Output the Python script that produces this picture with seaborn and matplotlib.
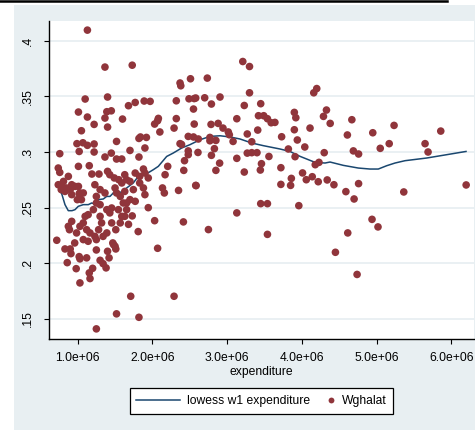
import numpy as np
import pandas as pd
import matplotlib
matplotlib.use("Agg")
import matplotlib.pyplot as plt
import seaborn as sns
from matplotlib.lines import Line2D
from matplotlib.legend_handler import HandlerBase
from matplotlib.patches import Rectangle

# ---------------- data ----------------
expenditure = [
    1.13e6, 1.365e6, 1.73e6, 2.37e6, 2.38e6, 2.51e6, 1.10e6, 1.40e6, 1.01e6, 1.13e6,
    1.39e6, 1.45e6, 1.365e6, 1.22e6, 1.40e6, 1.05e6, 1.68e6, 1.77e6, 1.89e6, 1.97e6,
    1.60e6, 2.08e6, 2.07e6, 2.03e6, 2.10e6, 1.84e6, 1.82e6, 1.92e6, 1.52e6, 0.99e6,
    1.07e6, 1.13e6, 1.22e6, 1.90e6, 2.32e6, 2.49e6, 2.56e6, 2.55e6, 2.32e6, 2.29e6,
    2.56e6, 2.48e6, 2.37e6, 2.39e6, 2.48e6, 1.70e6, 1.22e6, 1.45e6, 1.02e6, 0.76e6,
    3.21e6, 3.30e6, 2.735e6, 4.20e6, 4.16e6, 3.30e6, 2.58e6, 2.70e6, 2.905e6, 2.79e6,
    3.23e6, 3.45e6, 3.90e6, 3.92e6, 4.33e6, 4.29e6, 3.42e6, 3.49e6, 3.54e6, 3.59e6,
    3.64e6, 3.13e6, 2.785e6, 2.88e6, 2.945e6, 3.016e6, 3.03e6, 4.38e6, 4.11e6, 3.90e6,
    3.41e6, 3.27e6, 2.615e6, 2.77e6, 2.77e6, 2.85e6, 3.73e6, 3.08e6, 3.33e6, 3.94e6,
    2.83e6, 4.04e6, 3.82e6, 2.61e6, 3.27e6, 3.33e6, 3.40e6, 3.56e6, 4.30e6, 2.79e6,
    3.91e6, 3.13e6, 2.90e6, 3.46e6, 4.18e6, 4.23e6, 3.72e6, 2.85e6, 3.23e6, 3.445e6,
    4.01e6, 4.14e6, 4.06e6, 4.22e6, 4.34e6, 4.43e6, 3.86e6, 3.85e6, 3.72e6, 2.58e6,
    4.67e6, 4.61e6, 4.95e6, 5.235e6, 5.86e6, 5.65e6, 5.69e6, 5.17e6, 5.05e6, 4.69e6,
    4.76e6, 4.59e6, 4.70e6, 4.76e6, 5.365e6, 6.20e6, 3.13e6, 3.45e6, 3.54e6, 3.96e6,
    3.54e6, 4.94e6, 5.02e6, 4.615e6, 4.45e6, 4.74e6,
    2.75e6, 2.415e6, 2.03e6, 2.07e6, 1.81e6, 1.68e6, 1.73e6, 1.945e6, 1.71e6, 2.29e6,
    1.52e6, 1.82e6, 1.25e6, 0.72e6, 0.83e6, 0.90e6, 0.91e6, 0.86e6, 0.98e6, 1.03e6,
    1.02e6, 1.03e6, 1.12e6, 1.155e6, 1.165e6, 1.20e6, 1.30e6, 1.34e6, 1.38e6, 1.42e6,
    1.25e6, 1.40e6, 1.47e6, 1.50e6, 1.51e6, 0.875e6, 0.89e6, 0.92e6, 0.96e6, 0.985e6,
    1.03e6, 1.075e6, 1.12e6, 1.165e6, 1.14e6, 1.23e6, 1.25e6, 1.28e6, 1.32e6, 1.30e6,
    1.34e6, 1.39e6, 1.455e6, 1.48e6, 1.51e6, 1.57e6, 1.59e6, 1.655e6, 1.545e6, 1.61e6,
    1.43e6, 1.39e6, 1.25e6, 1.30e6, 1.21e6, 1.14e6, 1.10e6, 1.075e6, 0.995e6, 1.05e6,
    1.075e6, 1.02e6,
    1.365e6, 1.52e6, 1.59e6, 0.74e6, 0.76e6, 0.875e6, 0.81e6, 1.01e6, 1.155e6, 1.19e6,
    1.285e6, 1.40e6, 1.43e6, 1.49e6, 1.55e6, 1.63e6, 1.655e6, 1.70e6, 1.77e6, 1.83e6,
    1.90e6, 1.945e6, 0.785e6, 0.85e6, 0.83e6, 0.90e6, 0.92e6, 0.965e6, 1.01e6, 1.03e6,
    0.92e6, 1.23e6, 1.30e6, 1.365e6, 1.25e6, 1.50e6, 1.59e6, 1.52e6, 1.57e6, 1.63e6,
    1.70e6, 1.655e6, 1.745e6, 1.83e6, 1.88e6, 1.90e6, 1.77e6, 1.455e6, 1.63e6, 1.82e6,
    1.88e6, 2.205e6, 2.17e6, 2.135e6, 2.16e6, 2.48e6, 2.43e6, 2.42e6, 2.585e6, 2.35e6,
    2.55e6, 0.74e6, 0.78e6,
]
wghalat = [
    .4095, .3763, .378, .362, .3595, .3658, .3476, .3494, .3359, .3314,
    .3362, .337, .3305, .3248, .3224, .3191, .3416, .3445, .3458, .3455,
    .3296, .3302, .3281, .3251, .318, .3135, .3122, .3131, .3095, .3075,
    .3083, .306, .3072, .3036, .346, .3478, .348, .3386, .330, .3215,
    .3251, .314, .3075, .3068, .301, .3014, .300, .299, .3005, .2985,
    .3813, .3768, .3664, .357, .3532, .3532, .3485, .3487, .3494, .3431,
    .3418, .3434, .3356, .3308, .3377, .332, .3326, .3326, .3299, .3263,
    .3266, .3299, .3248, .3257, .3215, .318, .3155, .3257, .3215, .320,
    .3197, .3162, .3117, .3131, .3101, .3104, .3137, .3095, .3092, .3108,
    .303, .3045, .3027, .2996, .299, .2994, .2994, .296, .2994, .297,
    .2958, .2943, .290, .2895, .2886, .2907, .2859, .2835, .282, .2838,
    .2812, .2778, .2751, .2733, .2749, .2706, .2763, .270, .2709, .270,
    .329, .3153, .3173, .3239, .3188, .3075, .300, .3075, .3033, .301,
    .2982, .2644, .2578, .2716, .2641, .2704, .2453, .2536, .2536, .2518,
    .226, .2395, .2327, .2273, .2099, .190,
    .2303, .2372, .2383, .2135, .2285, .235, .2426, .250, .1704, .1704,
    .1546, .1515, .1411, .2207, .2129, .2129, .2087, .2006, .1952, .1824,
    .206, .204, .2049, .1914, .1863, .1955, .2027, .1997, .1959, .2049,
    .212, .2108, .2183, .2153, .2129, .2332, .2302, .2377, .2183, .2273,
    .2332, .2213, .2302, .2273, .2198, .2242, .2213, .2302, .2363, .2422,
    .2242, .2273, .2363, .2168, .2302, .2363, .2422, .2482, .2482, .2542,
    .2453, .2482, .2542, .2527, .2482, .2437, .2422, .2363, .2572, .2572,
    .2632, .2626,
    .2955, .2937, .2937, .2856, .2817, .2781, .2736, .2871, .2877, .2802,
    .2802, .2826, .2796, .2767, .2751, .2796, .2751, .2736, .2811, .2781,
    .2811, .2767, .2706, .2677, .2646, .2662, .2706, .2691, .2691, .2632,
    .2617, .2706, .2662, .2632, .2601, .2677, .2722, .2632, .2601, .2646,
    .2572, .2542, .2662, .2722, .2677, .2617, .2557, .2497, .2422, .2955,
    .2847, .2871, .2796, .2677, .2632, .2976, .2922, .2835, .2698, .2655,
    .3135, .2706, .2662,
]

# lowess curve
lowess_x = [
    0.727e6, 0.79e6, 0.83e6, 0.874e6, 0.924e6, 0.964e6, 1.008e6, 1.075e6, 1.142e6, 1.187e6,
    1.232e6, 1.276e6, 1.343e6, 1.388e6, 1.432e6, 1.477e6, 1.522e6, 1.589e6, 1.656e6, 1.744e6,
    1.811e6, 1.901e6, 2.012e6, 2.079e6, 2.191e6, 2.28e6, 2.392e6, 2.503e6, 2.637e6, 2.771e6,
    2.905e6, 3.039e6, 3.173e6, 3.329e6, 3.485e6, 3.708e6, 3.842e6, 3.976e6, 4.177e6, 4.311e6,
    4.378e6, 4.556e6, 4.756e6, 4.913e6, 5.024e6, 5.137e6, 5.248e6, 5.382e6, 5.672e6, 5.94e6,
    6.198e6,
]
lowess_y = [
    .2713, .2617, .2527, .2473, .2473, .2482, .2512, .2527, .2527, .2542,
    .2533, .2572, .2578, .2601, .2601, .2632, .2646, .2637, .2677, .2722,
    .2781, .2796, .2841, .2871, .296, .2991, .3036, .3066, .311, .314,
    .3146, .3135, .3117, .3081, .3057, .3027, .3005, .2961, .2907, .2901,
    .291, .288, .2856, .2847, .2847, .2877, .2901, .2922, .2946, .2976,
    .3005,
]

xtick_values = [1e6, 2e6, 3e6, 4e6, 5e6, 6e6]
xtick_labels = ["1.0e+06", "2.0e+06", "3.0e+06", "4.0e+06", "5.0e+06", "6.0e+06"]
ytick_values = [0.15, 0.2, 0.25, 0.3, 0.35, 0.4]
ytick_labels = [".15", ".2", ".25", ".3", ".35", ".4"]

# ---------------- style ----------------
BG = "#e8eff2"
NAVY = "#1a476f"
MAROON = "#90353b"
FS = 8.7

plt.rcParams["font.family"] = ["Liberation Sans", "DejaVu Sans"]

scatter_df = pd.DataFrame({"expenditure": expenditure, "Wghalat": wghalat})
line_df = pd.DataFrame({"expenditure": lowess_x, "lowess": lowess_y})

W, H = 475, 432
fig = plt.figure(figsize=(W / 100, H / 100), dpi=100, facecolor="white")

# graph region background
fig.patches.append(Rectangle((14 / W, 2 / H), 1 - 14 / W, 425 / H,
                             transform=fig.transFigure, facecolor=BG,
                             edgecolor="none", zorder=-10))
# black rule at the very top
fig.lines.append(Line2D([0, 447 / W], [1 - 1.2 / H, 1 - 1.2 / H],
                        transform=fig.transFigure, color="black", lw=1.8))

ax = fig.add_axes([49 / W, 1 - 339 / H, (474 - 49) / W, (339 - 21) / H])
ax.set_facecolor("white")

for yv in ytick_values:
    ax.axhline(yv, color=BG, lw=1.3, zorder=0)

sns.lineplot(data=line_df, x="expenditure", y="lowess", sort=False,
             estimator=None, color=NAVY, lw=1.1, ax=ax, zorder=2)
sns.scatterplot(data=scatter_df, x="expenditure", y="Wghalat", color=MAROON,
                s=30, edgecolor="none", linewidth=0, ax=ax, zorder=3)

ax.set_xlim(0.616e6, 6.305e6)
ax.set_ylim(0.132, 0.4177)
ax.set_xticks(xtick_values)
ax.set_xticklabels(xtick_labels, fontsize=FS)
ax.set_yticks(ytick_values)
ax.set_yticklabels(ytick_labels, fontsize=FS, rotation=90, va="center")
ax.tick_params(axis="both", direction="out", length=3.6, width=0.8,
               color="black")
ax.tick_params(axis="x", pad=5.5)
ax.tick_params(axis="y", pad=7.5)
ax.set_xlabel("expenditure", fontsize=FS, labelpad=1.5)
ax.set_ylabel("")
for side in ("top", "right"):
    ax.spines[side].set_visible(False)
for side in ("left", "bottom"):
    ax.spines[side].set_color("black")
    ax.spines[side].set_linewidth(1.0)
ax.grid(False)


class RightMarker(HandlerBase):
    def create_artists(self, legend, orig_handle, xdescent, ydescent,
                       width, height, fontsize, trans):
        m = Line2D([-xdescent + width - 2.5], [height / 2 - ydescent],
                   marker="o", ms=4.2, color=MAROON, linestyle="none",
                   markeredgewidth=0, transform=trans)
        return [m]


h_line = Line2D([], [], color=NAVY, lw=1.1)
h_dot = Line2D([], [], marker="o", color=MAROON, linestyle="none")
leg = fig.legend([h_line, h_dot], ["lowess w1 expenditure", "Wghalat"],
                 loc="center", bbox_to_anchor=(261.5 / W, 1 - 401 / H),
                 ncol=2, fontsize=FS, frameon=True, fancybox=False,
                 edgecolor="black", facecolor="white", framealpha=1,
                 handlelength=3.6, handletextpad=0.6, columnspacing=-1.6,
                 borderpad=0.55, handler_map={h_dot: RightMarker()})
leg.get_frame().set_linewidth(0.9)

fig.savefig("out.png", dpi=100, facecolor="white")
